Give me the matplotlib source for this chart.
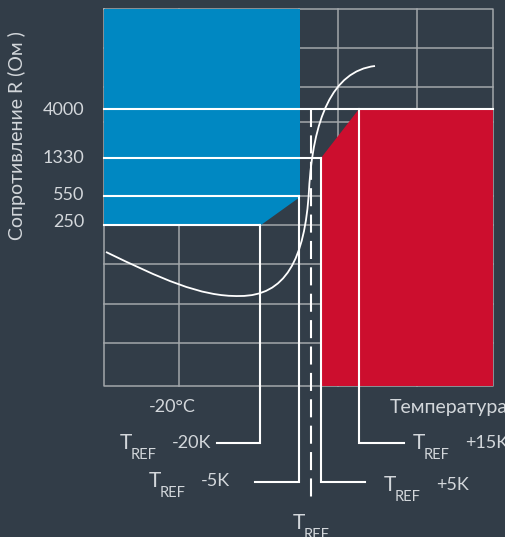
import matplotlib
matplotlib.use("Agg")
import matplotlib.pyplot as plt
from matplotlib.patches import Polygon, PathPatch
from matplotlib.path import Path

plt.rcParams['font.family'] = ['Lato', 'DejaVu Sans']
plt.rcParams['lines.scale_dashes'] = False
FW = "normal"

# ---- schematic data (pixel-space schematic coordinates) ----
BG = "#323d48"
BLUE = "#0088c2"
RED = "#cc0e2e"
GRID = "#a3a7ab"
WHITE = "#ffffff"
TXT = "#d3d7db"

frame_x = [104, 493]
frame_y = [9, 386]

grid_h = [48, 87, 122, 196, 225, 264, 304, 343]
grid_v = [179, 299, 338, 417]

resist_labels = ["4000", "1330", "550", "250"]
resist_y = [109, 158, 196, 225]
resist_x_end = [493, 321, 299, 260]
label_y = [110, 158, 195, 222]

blue_x = [104, 300, 300, 261, 104]
blue_y = [9, 9, 197, 225, 225]
red_x = [321, 321, 359, 493, 493]
red_y = [386, 158, 109, 109, 386]

# R(T) curve: cubic Bezier anchor/control points
curve_x = [106, 160, 200, 240, 285, 305, 309, 313, 332, 375]
curve_y = [252, 278, 297, 296, 296, 260, 190, 120, 71, 66]

# markers: label, vertical x, top y, bottom y, leader end x, T x, text y
markers = [
    ("-20K", 260, 225, 443, 217, 120, 443),
    ("-5K", 299, 196, 482, 255, 149, 481),
    ("+5K", 321, 158, 482, 365, 384, 485),
    ("+15K", 359, 109, 443, 404, 413, 443),
]
tref_x = 311
tref_top, tref_bottom = 109, 501

fig = plt.figure(figsize=(5.05, 5.37), dpi=100, facecolor=BG)
ax = fig.add_axes([0, 0, 1, 1])
ax.set_xlim(0, 505)
ax.set_ylim(537, 0)
ax.axis("off")
ax.set_facecolor(BG)

# grid
for y in grid_h:
    ax.plot(frame_x, [y, y], color=GRID, lw=1.1, zorder=1)
for x in grid_v:
    ax.plot([x, x], frame_y, color=GRID, lw=1.1, zorder=1)
ax.plot([frame_x[0], frame_x[1], frame_x[1], frame_x[0], frame_x[0]],
        [frame_y[0], frame_y[0], frame_y[1], frame_y[1], frame_y[0]],
        color=GRID, lw=1.1, zorder=1)

# regions
ax.add_patch(Polygon(list(zip(blue_x, blue_y)), closed=True, fc=BLUE, ec="none", zorder=2))
ax.add_patch(Polygon(list(zip(red_x, red_y)), closed=True, fc=RED, ec="none", zorder=2))

# resistance level lines and labels
for y, xe in zip(resist_y, resist_x_end):
    ax.plot([frame_x[0], xe], [y, y], color=WHITE, lw=1.5, zorder=3)
for lab, y in zip(resist_labels, label_y):
    ax.text(84, y, lab, color=TXT, fontsize=13, fontweight=FW,
            ha="right", va="center")

# temperature markers
for lab, x, yt, yb, xl, tx, ty in markers:
    ax.plot([x, x, xl], [yt, yb, yb], color=WHITE, lw=1.5, zorder=3,
            solid_joinstyle="miter")
    ax.text(tx, ty, "T", color=TXT, fontsize=15, fontweight=FW,
            ha="left", va="center")
    ax.text(tx + 11, ty + 12, "REF", color=TXT, fontsize=10.5, fontweight=FW,
            ha="left", va="center")
    ax.text(tx + 52, ty, lab, color=TXT, fontsize=13, fontweight=FW,
            ha="left", va="center")

# T_REF dashed
ax.plot([tref_x, tref_x], [tref_top, tref_bottom], color=WHITE, lw=1.5,
        dashes=(13, 6), zorder=3)
ax.text(293, 523, "T", color=TXT, fontsize=15, fontweight=FW,
        ha="left", va="center")
ax.text(304, 535, "REF", color=TXT, fontsize=10.5, fontweight=FW,
        ha="left", va="center")

# curve
codes = [Path.MOVETO] + [Path.CURVE4] * (len(curve_x) - 1)
path = Path(list(zip(curve_x, curve_y)), codes)
ax.add_patch(PathPatch(path, fc="none", ec=WHITE, lw=1.3, zorder=4))

# axis texts
ax.text(17, 136, "Сопротивление R (Ом )", color=TXT, fontsize=14,
        fontweight=FW, rotation=90, ha="center", va="center")
ax.text(172, 407, "-20°C", color=TXT, fontsize=13, fontweight=FW,
        ha="center", va="center")
ax.text(390, 407, "Температура", color=TXT, fontsize=14, fontweight=FW,
        ha="left", va="center")

fig.savefig("out.png", dpi=100, facecolor=BG)
